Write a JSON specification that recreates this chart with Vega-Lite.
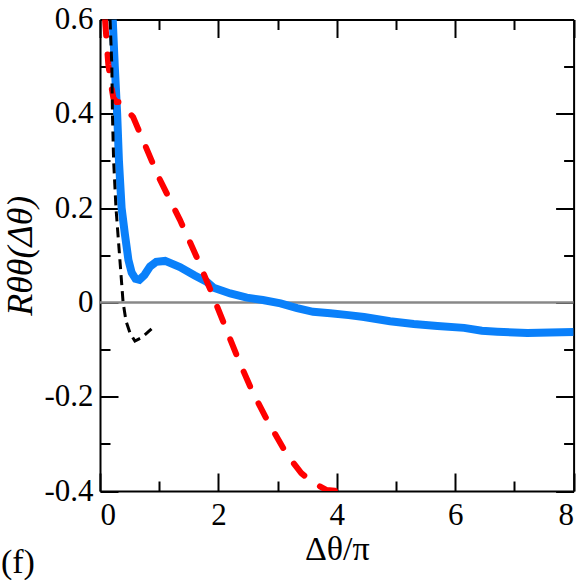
{
  "$schema": "https://vega.github.io/schema/vega-lite/v6.json",
  "width": 473.6,
  "height": 471.5,
  "autosize": {"type": "none"},
  "padding": {"left": 100, "top": 19.5, "right": 8.4, "bottom": 89},
  "background": "white",
  "title": {
    "text": "(f)",
    "orient": "bottom",
    "anchor": "start",
    "frame": "bounds",
    "font": "Liberation Serif",
    "fontSize": 34,
    "fontWeight": "normal",
    "color": "black",
    "offset": -20,
    "dx": -2
  },
  "config": {
    "view": {"stroke": null},
    "axis": {
      "grid": false,
      "domainColor": "black",
      "domainWidth": 2,
      "tickColor": "black",
      "tickWidth": 2,
      "labelFont": "Liberation Serif",
      "labelFontSize": 31,
      "labelColor": "black",
      "titleFont": "Liberation Serif",
      "titleFontSize": 34,
      "titleFontWeight": "normal",
      "titleColor": "black"
    }
  },
  "datasets": {
    "curves": [
      {"s": "a", "x": 0.215, "y": 0.60},
      {"s": "a", "x": 0.25, "y": 0.50},
      {"s": "a", "x": 0.29, "y": 0.40},
      {"s": "a", "x": 0.32, "y": 0.30},
      {"s": "a", "x": 0.365, "y": 0.20},
      {"s": "a", "x": 0.42, "y": 0.145},
      {"s": "a", "x": 0.48, "y": 0.09},
      {"s": "a", "x": 0.535, "y": 0.063},
      {"s": "a", "x": 0.60, "y": 0.050},
      {"s": "a", "x": 0.665, "y": 0.048},
      {"s": "a", "x": 0.75, "y": 0.058},
      {"s": "a", "x": 0.845, "y": 0.076},
      {"s": "a", "x": 0.95, "y": 0.086},
      {"s": "a", "x": 1.10, "y": 0.088},
      {"s": "a", "x": 1.35, "y": 0.075},
      {"s": "a", "x": 1.60, "y": 0.057},
      {"s": "a", "x": 1.80, "y": 0.044},
      {"s": "a", "x": 1.92, "y": 0.031},
      {"s": "a", "x": 2.20, "y": 0.019},
      {"s": "a", "x": 2.48, "y": 0.010},
      {"s": "a", "x": 2.75, "y": 0.005},
      {"s": "a", "x": 3.05, "y": -0.002},
      {"s": "a", "x": 3.33, "y": -0.012},
      {"s": "a", "x": 3.60, "y": -0.020},
      {"s": "a", "x": 3.89, "y": -0.023},
      {"s": "a", "x": 4.20, "y": -0.027},
      {"s": "a", "x": 4.46, "y": -0.031},
      {"s": "a", "x": 4.90, "y": -0.040},
      {"s": "a", "x": 5.30, "y": -0.046},
      {"s": "a", "x": 5.70, "y": -0.050},
      {"s": "a", "x": 6.15, "y": -0.054},
      {"s": "a", "x": 6.45, "y": -0.060},
      {"s": "a", "x": 6.71, "y": -0.062},
      {"s": "a", "x": 7.22, "y": -0.065},
      {"s": "a", "x": 7.60, "y": -0.064},
      {"s": "a", "x": 8.00, "y": -0.063},
      {"s": "b", "x": 0.085, "y": 0.60},
      {"s": "b", "x": 0.14, "y": 0.505},
      {"s": "b", "x": 0.19, "y": 0.46},
      {"s": "b", "x": 0.225, "y": 0.434},
      {"s": "b", "x": 0.28, "y": 0.425},
      {"s": "b", "x": 0.33, "y": 0.425},
      {"s": "b", "x": 0.56, "y": 0.393},
      {"s": "b", "x": 0.99, "y": 0.266},
      {"s": "b", "x": 1.35, "y": 0.175},
      {"s": "b", "x": 1.63, "y": 0.097},
      {"s": "b", "x": 1.91, "y": 0.013},
      {"s": "b", "x": 2.11, "y": -0.050},
      {"s": "b", "x": 2.34, "y": -0.122},
      {"s": "b", "x": 2.57, "y": -0.188},
      {"s": "b", "x": 2.85, "y": -0.256},
      {"s": "b", "x": 3.16, "y": -0.323},
      {"s": "b", "x": 3.40, "y": -0.362},
      {"s": "b", "x": 3.58, "y": -0.381},
      {"s": "b", "x": 3.83, "y": -0.398},
      {"s": "b", "x": 4.00, "y": -0.400},
      {"s": "c", "x": 0.17, "y": 0.60},
      {"s": "c", "x": 0.20, "y": 0.50},
      {"s": "c", "x": 0.21, "y": 0.40},
      {"s": "c", "x": 0.23, "y": 0.30},
      {"s": "c", "x": 0.27, "y": 0.20},
      {"s": "c", "x": 0.33, "y": 0.10},
      {"s": "c", "x": 0.39, "y": 0.00},
      {"s": "c", "x": 0.44, "y": -0.040},
      {"s": "c", "x": 0.51, "y": -0.066},
      {"s": "c", "x": 0.59, "y": -0.082},
      {"s": "c", "x": 0.70, "y": -0.075},
      {"s": "c", "x": 0.87, "y": -0.056}
    ],
    "zero": [{"x0": 0, "x1": 8, "r": 0}]
  },
  "layer": [
    {
      "data": {"name": "zero"},
      "mark": {"type": "rule", "color": "#888888", "strokeWidth": 2.5},
      "encoding": {
        "x": {
          "field": "x0", "type": "quantitative",
          "scale": {"domain": [0, 8], "nice": false, "zero": false},
          "axis": {
            "orient": "bottom", "values": [0, 2, 4, 6, 8], "tickSize": -18,
            "labelPadding": 27, "title": "Δθ/π", "titlePadding": 2
          }
        },
        "x2": {"field": "x1"},
        "y": {
          "field": "r", "type": "quantitative",
          "scale": {"domain": [-0.4, 0.6], "nice": false, "zero": false},
          "axis": {
            "orient": "left", "values": [-0.4, -0.2, 0, 0.2, 0.4, 0.6], "tickSize": -18,
            "labelPadding": 25,
            "labelExpr": "datum.value == 0 ? '0' : (datum.value < 0 ? '-' : '') + format(abs(datum.value), '.1f')",
            "title": "Rθθ(Δθ)", "titleFontStyle": "italic", "titleFontSize": 36, "titlePadding": 4
          }
        }
      }
    },
    {
      "data": {"name": "curves"},
      "transform": [{"filter": "datum.s == 'a'"}],
      "mark": {"type": "line", "color": "#0a80fa", "strokeWidth": 8, "clip": true},
      "encoding": {
        "x": {
          "field": "x", "type": "quantitative",
          "scale": {"domain": [0, 8], "nice": false, "zero": false},
          "axis": {"orient": "top", "values": [0, 2, 4, 6, 8], "tickSize": -18, "labels": false, "title": null}
        },
        "y": {
          "field": "y", "type": "quantitative",
          "scale": {"domain": [-0.4, 0.6], "nice": false, "zero": false},
          "axis": {"orient": "right", "values": [-0.4, -0.2, 0, 0.2, 0.4, 0.6], "tickSize": -18, "labels": false, "title": null}
        }
      }
    },
    {
      "data": {"name": "curves"},
      "transform": [{"filter": "datum.s == 'b'"}],
      "mark": {"type": "line", "color": "#ff0000", "strokeWidth": 6, "strokeDash": [16, 19], "strokeCap": "round", "clip": true},
      "encoding": {
        "x": {
          "field": "x", "type": "quantitative",
          "scale": {"domain": [0, 8], "nice": false, "zero": false},
          "axis": {"orient": "bottom", "values": [1, 3, 5, 7], "tickSize": -10, "labels": false, "domain": false, "title": null}
        },
        "y": {
          "field": "y", "type": "quantitative",
          "scale": {"domain": [-0.4, 0.6], "nice": false, "zero": false},
          "axis": {"orient": "left", "values": [-0.3, -0.1, 0.1, 0.3, 0.5], "tickSize": -10, "labels": false, "domain": false, "title": null}
        }
      }
    },
    {
      "data": {"name": "curves"},
      "transform": [{"filter": "datum.s == 'c'"}],
      "mark": {"type": "line", "color": "black", "strokeWidth": 3, "strokeDash": [10, 6], "clip": true},
      "encoding": {
        "x": {
          "field": "x", "type": "quantitative",
          "scale": {"domain": [0, 8], "nice": false, "zero": false},
          "axis": {"orient": "top", "values": [1, 3, 5, 7], "tickSize": -10, "labels": false, "domain": false, "title": null}
        },
        "y": {
          "field": "y", "type": "quantitative",
          "scale": {"domain": [-0.4, 0.6], "nice": false, "zero": false},
          "axis": {"orient": "right", "values": [-0.3, -0.1, 0.1, 0.3, 0.5], "tickSize": -10, "labels": false, "domain": false, "title": null}
        }
      }
    }
  ],
  "resolve": {"axis": {"x": "independent", "y": "independent"}}
}
